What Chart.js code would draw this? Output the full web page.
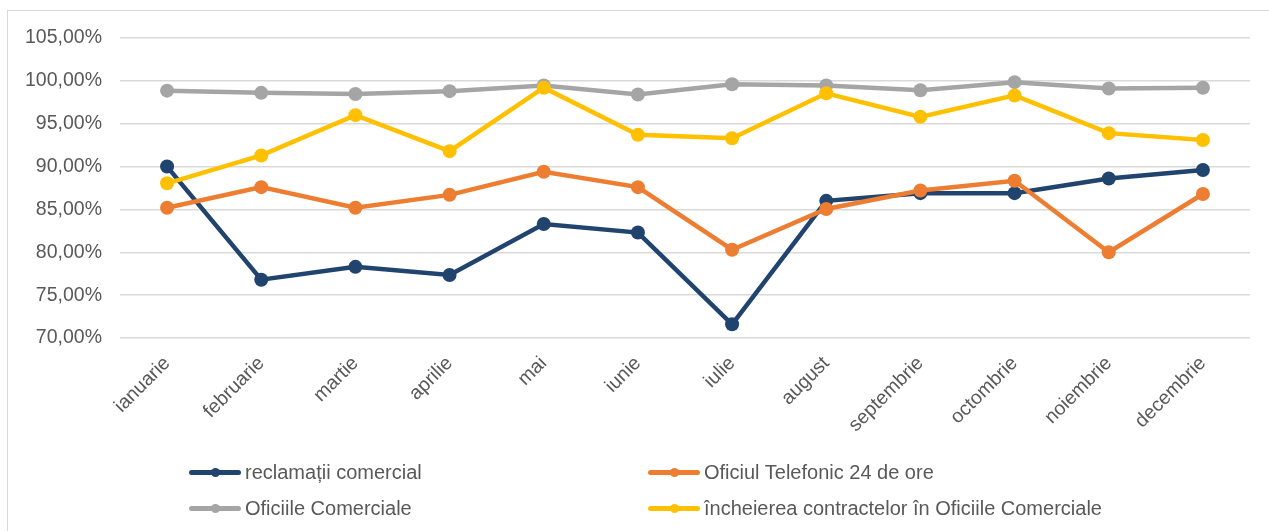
<!DOCTYPE html>
<html>
<head>
<meta charset="utf-8">
<script src="https://cdn.jsdelivr.net/npm/chart.js@4/dist/chart.umd.min.js"></script>
<style>
  html, body { margin: 0; padding: 0; background: #ffffff; }
  #wrap { position: relative; width: 1269px; height: 531px; overflow: hidden; font-family: "Liberation Sans", Arial, sans-serif; }
  #frame { position: absolute; left: 7px; top: 10px; width: 1300px; height: 600px; border: 1.5px solid #d9d9d9; box-sizing: border-box; }
  #c { position: absolute; left: 0; top: 0; }
  .lg { position: absolute; height: 24px; display: flex; align-items: center; font-size: 20px; color: #595959; white-space: nowrap; }
  .lg .s { position: relative; width: 52px; height: 24px; margin-right: 4px; }
  .lg .s .ln { position: absolute; left: 0; right: 0; top: 9.5px; height: 5px; border-radius: 2.5px; }
  .lg .s .dt { position: absolute; left: 21.5px; top: 7.5px; width: 9px; height: 9px; border-radius: 50%; }
</style>
</head>
<body>
<div id="wrap">
  <div id="frame"></div>
  <canvas id="c" width="1269" height="531"></canvas>
  <div id="legend"></div>
</div>
<script>
const categories = ["ianuarie","februarie","martie","aprilie","mai","iunie","iulie","august","septembrie","octombrie","noiembrie","decembrie"];
const seriesNames = ["reclamații comercial","Oficiul Telefonic 24 de ore","Oficiile Comerciale","încheierea contractelor în Oficiile Comerciale"];
const reclamatiiComercial = [90.0, 76.8, 78.3, 77.35, 83.3, 82.3, 71.6, 86.0, 86.9, 86.9, 88.6, 89.6];
const oficiulTelefonic = [85.2, 87.6, 85.2, 86.7, 89.4, 87.6, 80.3, 85.05, 87.2, 88.35, 80.0, 86.8];
const oficiileComerciale = [98.86, 98.6, 98.47, 98.8, 99.45, 98.4, 99.6, 99.45, 98.9, 99.85, 99.1, 99.2];
const incheiereaContractelor = [88.05, 91.3, 96.0, 91.8, 99.2, 93.7, 93.3, 98.55, 95.8, 98.3, 93.9, 93.1];
const yTicks = [70, 75, 80, 85, 90, 95, 100, 105];
const colors = ["#21446e", "#ed7d31", "#a5a5a5", "#ffc000"];

const seriesValues = [reclamatiiComercial, oficiulTelefonic, oficiileComerciale, incheiereaContractelor];
const drawOrder = [4, 3, 2, 1];

const FONT = "'Liberation Sans', Arial, sans-serif";

const datasets = seriesValues.map((vals, i) => ({
  label: seriesNames[i],
  data: vals,
  borderColor: colors[i],
  backgroundColor: colors[i],
  pointBackgroundColor: colors[i],
  pointBorderColor: colors[i],
  borderWidth: 4.5,
  pointRadius: 7,
  pointHoverRadius: 7,
  pointBorderWidth: 0,
  tension: 0,
  fill: false,
  order: drawOrder[i]
}));

new Chart(document.getElementById('c'), {
  type: 'line',
  data: { labels: categories, datasets },
  options: {
    responsive: false,
    animation: false,
    devicePixelRatio: 1,
    layout: { padding: { top: 38, left: 0, right: 19, bottom: 0 } },
    plugins: { legend: { display: false }, tooltip: { enabled: false } },
    scales: {
      x: {
        offset: true,
        grid: { display: false, drawTicks: false },
        border: { display: false },
        ticks: {
          minRotation: 45, maxRotation: 45, autoSkip: false,
          padding: 14,
          color: '#595959',
          font: { family: FONT, size: 19.5 }
        },
        afterFit: (s) => { s.height = 531 - 338; }
      },
      y: {
        min: 70, max: 105,
        afterBuildTicks: (s) => { s.ticks = yTicks.map(v => ({ value: v })); },
        grid: { color: '#d9d9d9', lineWidth: 1.5, drawTicks: false },
        border: { display: false },
        ticks: {
          padding: 18,
          color: '#595959',
          font: { family: FONT, size: 19.5 },
          callback: (v) => Number(v).toFixed(2).replace('.', ',') + '%'
        },
        afterFit: (s) => { s.width = 120; }
      }
    }
  }
});

// HTML legend built from the series arrays
const legendPos = [
  { left: 189, top: 460 },
  { left: 648, top: 460 },
  { left: 189, top: 496 },
  { left: 648, top: 496 }
];
const lg = document.getElementById('legend');
seriesNames.forEach((name, i) => {
  const d = document.createElement('div');
  d.className = 'lg';
  d.style.left = legendPos[i].left + 'px';
  d.style.top = legendPos[i].top + 'px';
  d.innerHTML = '<div class="s"><div class="ln" style="background:' + colors[i] + '"></div><div class="dt" style="background:' + colors[i] + '"></div></div>';
  const t = document.createElement('span');
  t.textContent = name;
  d.appendChild(t);
  lg.appendChild(d);
});
</script>
</body>
</html>
